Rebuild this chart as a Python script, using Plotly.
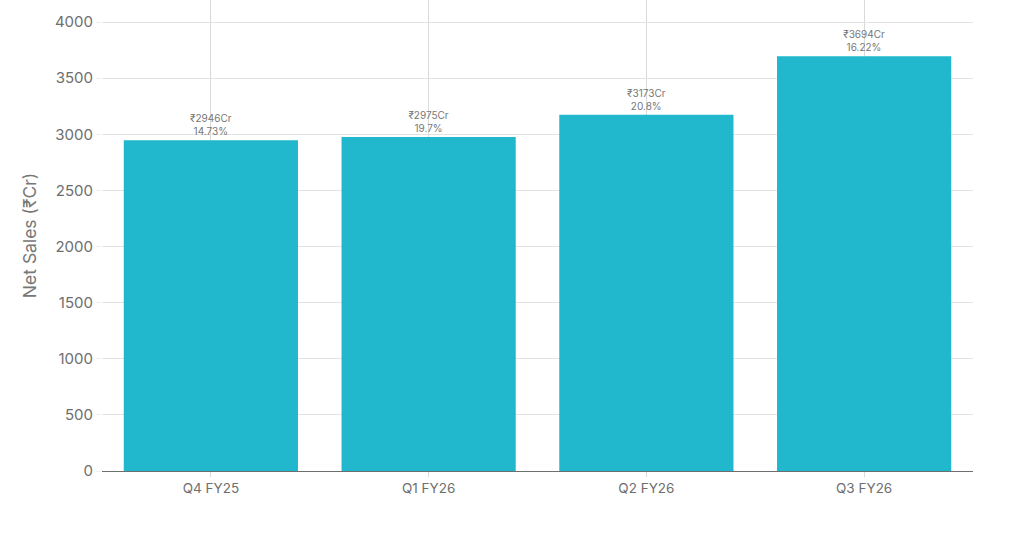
import plotly.graph_objects as go

quarters = ["Q4 FY25", "Q1 FY26", "Q2 FY26", "Q3 FY26"]
net_sales = [2946, 2975, 3173, 3694]
margins = ["14.73%", "19.7%", "20.8%", "16.22%"]

labels = [f"₹{v}Cr<br>{m}" for v, m in zip(net_sales, margins)]

FONT = "Inter, Liberation Sans, sans-serif"

fig = go.Figure(go.Bar(
    x=quarters, y=net_sales,
    marker=dict(color="#21B7CD", line=dict(width=0)),
    text=labels, textposition="outside", cliponaxis=False,
    textfont=dict(size=10, color="#777777", family=FONT),
))

fig.update_layout(
    width=1024, height=549,
    margin=dict(l=102, r=51, t=0, b=78),
    paper_bgcolor="white", plot_bgcolor="white",
    font=dict(family=FONT, color="#6e6e6e", size=13),
    bargap=0.2,
    showlegend=False,
)
fig.update_xaxes(
    showgrid=True, gridcolor="#d9d9d9", gridwidth=1,
    showline=True, linecolor="#6e6e6e", linewidth=1,
    ticks="outside", ticklen=5, tickcolor="#d9d9d9",
    tickfont=dict(size=13.5, color="#6e6e6e"),
)
fig.update_yaxes(
    range=[0, 4196], dtick=500,
    showgrid=True, gridcolor="#e3e3e3", gridwidth=1,
    zeroline=False,
    ticks="outside", ticklen=5, tickcolor="#eeeeee",
    tickfont=dict(size=15, color="#6e6e6e"),
    title=dict(text="Net Sales (₹Cr)", font=dict(size=17.5, color="#777777"), standoff=13),
)

fig.write_html(
    "out.html",
    config={"displayModeBar": False},
    post_script="document.body.style.margin='0px';document.body.style.overflow='hidden';",
)
